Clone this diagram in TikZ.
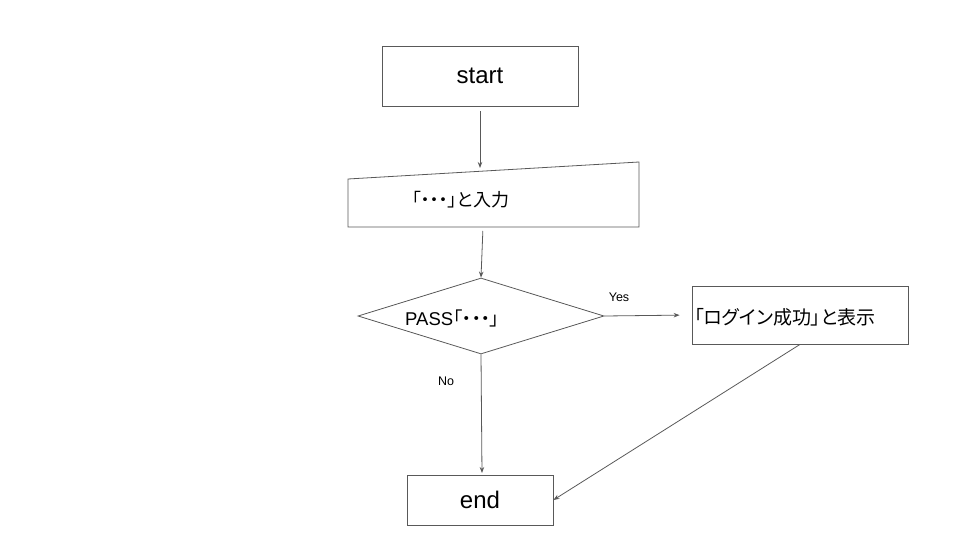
\documentclass[tikz,border=0pt]{standalone}
\usepackage{fontspec}
\setmainfont{Liberation Sans}
\newfontfamily\cjk[RawFeature=+palt]{Noto Sans CJK JP}
\usetikzlibrary{shapes.geometric,arrows.meta}
\definecolor{ln}{HTML}{595959}
\begin{document}
\begin{tikzpicture}[x=1pt,y=-1pt,
  box/.style={draw=ln,line width=0.8pt,rectangle,inner sep=0pt},
  conn/.style={draw=ln,line width=0.8pt},
  arr/.style={conn,-{Stealth[length=6pt,width=4.5pt]}},
  lbl/.style={font=\fontsize{12.5pt}{15pt}\selectfont,text=black},
  jtxt/.style={font=\cjk\fontsize{18pt}{21pt}\selectfont,anchor=west,inner sep=0pt}]
\useasboundingbox (0,0) rectangle (960,540);
% start
\node[box,minimum width=196pt,minimum height=60pt,font=\fontsize{24pt}{28pt}\selectfont] (start) at (480,76) {start};
% input (manual input shape)
\node[rectangle,inner sep=0pt,minimum width=291pt,minimum height=65pt] (inp) at (493.5,194.5) {};
\draw[conn] (348,179) -- (639,162) -- (639,227) -- (348,227) -- cycle;
\node[jtxt] (inptxt) at (412,200) {「・・・」と入力};
% decision
\node[diamond,draw=ln,line width=0.8pt,inner sep=0pt,minimum width=246pt,minimum height=76pt] (dec) at (481,316) {};
\node[font=\fontsize{18.5pt}{22pt}\selectfont,anchor=west,inner sep=0pt] (dectxt) at (405,318) {PASS{\cjk「・・・」}};
% success box
\node[box,minimum width=216pt,minimum height=58pt] (ok) at (800,315) {};
\node[jtxt,font=\cjk\fontsize{19pt}{22pt}\selectfont] (oktxt) at (694,317) {「ログイン成功」と表示};
% end
\node[box,minimum width=146pt,minimum height=50pt,font=\fontsize{24pt}{28pt}\selectfont] (end) at (480,500) {end};
% connectors
\draw[arr,shorten <=5pt] (start.south) -- (start.south |- 0,168);
\draw[arr,shorten <=4pt] (483,227) -- (dec.north);
\draw[arr,shorten >=12pt] (dec.east) -- (ok.west);
\node[lbl] (yes) at (619,297) {Yes};
\draw[arr,shorten >=2pt] (dec.south) -- (482,475);
\node[lbl] (no) at (446,381) {No};
\draw[arr] (ok.south) -- (end.east);
\end{tikzpicture}
\end{document}
